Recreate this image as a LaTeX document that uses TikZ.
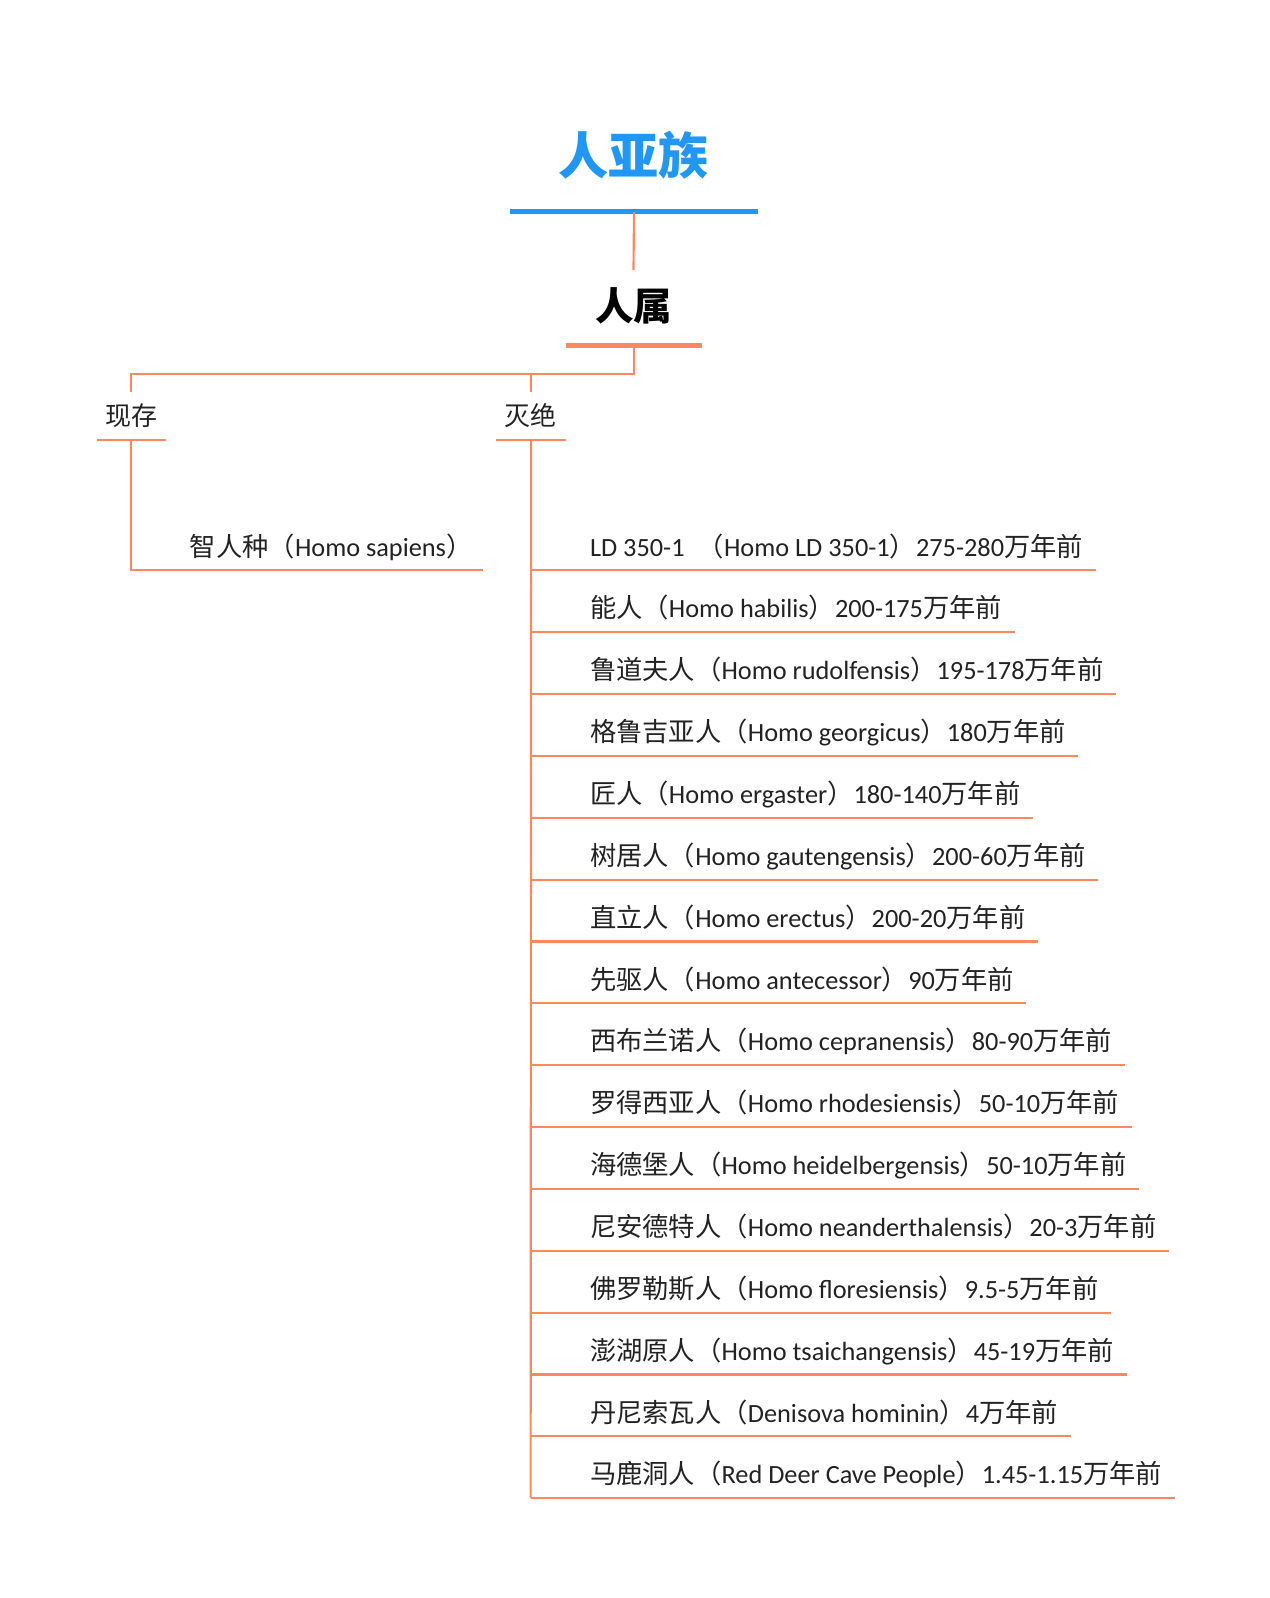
\documentclass[tikz,border=0pt]{standalone}
\usepackage{fontspec}
\setmainfont{Carlito}
\newfontfamily\cjkfont{Noto Sans CJK SC}
% switch to the CJK font for Han characters and full-width parentheses
\XeTeXinterchartokenstate=1
\newXeTeXintercharclass\hanclass
\count255="4E00
\loop
  \XeTeXcharclass\count255=\hanclass
  \ifnum\count255<"9FFF \advance\count255 by 1 \repeat
\XeTeXcharclass"FF08=\hanclass
\XeTeXcharclass"FF09=\hanclass
\XeTeXinterchartoks 0 \hanclass = {\begingroup\cjkfont}
\XeTeXinterchartoks 4095 \hanclass = {\begingroup\cjkfont}
\XeTeXinterchartoks \hanclass 0 = {\endgroup}
\XeTeXinterchartoks \hanclass 4095 = {\endgroup}
\usetikzlibrary{calc}
\definecolor{hmblue}{HTML}{2196F3}
\definecolor{hmorange}{HTML}{FA8A5E}
\definecolor{hmtext}{HTML}{222222}

\begin{document}
\begin{tikzpicture}[x=0.02cm,y=-0.02cm,
  branch/.style={draw=hmorange,line width=1.2pt},
  leaf/.style={font=\fontsize{14.7}{18}\selectfont,text=hmtext,inner sep=0pt,anchor=base west},
  group/.style={font=\fontsize{14.5}{18}\selectfont,text=hmtext,inner sep=0pt}]
\useasboundingbox (0,0) rectangle (1246,1569);

\node[font=\fontsize{28}{32}\selectfont\bfseries,text=hmblue,inner sep=0pt] (tribe) at (622,152) {人亚族};
\coordinate (tribeL) at (501,208);
\coordinate (tribeR) at (744,208);
\draw[hmblue,line width=2.9pt] (tribeL) -- (tribeR);

\node[font=\fontsize{21.5}{24}\selectfont\bfseries,text=black,inner sep=0pt] (genus) at (622,300) {人属};
\coordinate (genusT) at (622,265);
\coordinate (genusL) at (556,339);
\coordinate (genusR) at (689,339);
\draw[hmorange,line width=2.9pt] (genusL) -- (genusR);
\draw[branch] ($(tribeL)!.5!(tribeR)$) -- (genusT);

\node[group] (living) at (129,408) {现存};
\node[group] (extinct) at (521,408) {灭绝};
\coordinate (livingT) at (129,385);
\coordinate (extinctT) at (521,385);
\draw[branch] ($(genusL)!.5!(genusR)$) |- (livingT |- 0,367) -- (livingT);
\draw[branch] (extinctT |- 0,367) -- (extinctT);
\draw[branch] (95,432) coordinate (livingL) -- (163,432) coordinate (livingR);
\draw[branch] (487,432) coordinate (extinctL) -- (556,432) coordinate (extinctR);

% living
\node[leaf] (sapiens) at (186,546) {智人种（Homo sapiens）};
\draw[branch] ($(livingL)!.5!(livingR)$) |- ($(sapiens.base east)+(10,14)$);

% extinct
\foreach \txt [count=\i from 0] in {
  {LD 350-1\enspace（Homo LD 350-1）275-280万年前},
  {能人（Homo habilis）200-175万年前},
  {鲁道夫人（Homo rudolfensis）195-178万年前},
  {格鲁吉亚人（Homo georgicus）180万年前},
  {匠人（Homo ergaster）180-140万年前},
  {树居人（Homo gautengensis）200-60万年前},
  {直立人（Homo erectus）200-20万年前},
  {先驱人（Homo antecessor）90万年前},
  {西布兰诺人（Homo cepranensis）80-90万年前},
  {罗得西亚人（Homo rhodesiensis）50-10万年前},
  {海德堡人（Homo heidelbergensis）50-10万年前},
  {尼安德特人（Homo neanderthalensis）20-3万年前},
  {佛罗勒斯人（Homo floresiensis）9.5-5万年前},
  {澎湖原人（Homo tsaichangensis）45-19万年前},
  {丹尼索瓦人（Denisova hominin）4万年前},
  {马鹿洞人（Red Deer Cave People）1.45-1.15万年前}}
{
  \node[leaf] (sp\i) at (579,{546+60.73*\i}) {\txt};
  \coordinate (j\i) at (521,{560+60.73*\i});
  \draw[branch] (j\i) -- ($(j\i -| sp\i.east)+(12,0)$);
}
\draw[branch] ($(extinctL)!.5!(extinctR)$) -- (j15);

\end{tikzpicture}
\end{document}
